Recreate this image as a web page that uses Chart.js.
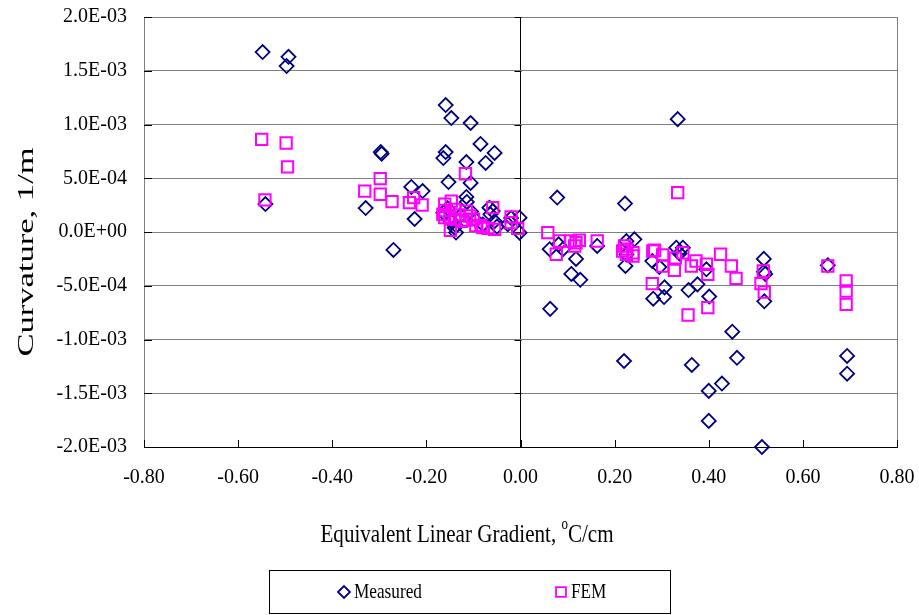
<!DOCTYPE html>
<html>
<head>
<meta charset="utf-8">
<script src="https://cdn.jsdelivr.net/npm/chart.js@4.4.1/dist/chart.umd.min.js"></script>
<style>
  html, body { margin: 0; padding: 0; background: #fff; }
  #wrap { width: 919px; height: 615px; }
</style>
</head>
<body>
<div id="wrap"><canvas id="chart" width="919" height="615"></canvas></div>
<script>
const seriesNames = ['Measured', 'FEM'];
const xTickLabels = ['-0.80', '-0.60', '-0.40', '-0.20', '0.00', '0.20', '0.40', '0.60', '0.80'];
const yTickLabels = ['-2.0E-03', '-1.5E-03', '-1.0E-03', '-5.0E-04', '0.0E+00', '5.0E-04', '1.0E-03', '1.5E-03', '2.0E-03'];
const xTitle = ['Equivalent Linear Gradient, ', 'o', 'C/cm'];
const yTitle = 'Curvature, 1/m';

// curvature values below are in units of 1E-03 1/m
const measuredX = [
  -0.548, -0.493, -0.497, -0.542, -0.297, -0.295, -0.329, -0.270, -0.232, -0.208, -0.225,
  -0.159, -0.147, -0.106, -0.085, -0.055, -0.159, -0.164, -0.074, -0.115, -0.153, -0.106,
  -0.115, -0.114, -0.164, -0.155, -0.148, -0.137, -0.137, -0.128, -0.105, -0.095, -0.080,
  -0.066, -0.064, -0.055, -0.050, -0.027, -0.020, -0.002, -0.002, -0.140, -0.059,
  0.078, 0.222, 0.062, 0.081, 0.090, 0.118, 0.163, 0.225, 0.242, 0.108, 0.127, 0.063,
  0.223, 0.225, 0.280, 0.295, 0.331, 0.345, 0.338, 0.306, 0.282, 0.305, 0.357, 0.376,
  0.395, 0.401, 0.450, 0.517, 0.517, 0.520, 0.518, 0.653, 0.220, 0.364, 0.460, 0.694,
  0.694, 0.428, 0.400, 0.400, 0.513, 0.334
];
const measuredY = [
  1.674, 1.630, 1.544, 0.260, 0.744, 0.728, 0.223, -0.167, 0.419, 0.381, 0.121,
  1.181, 1.060, 1.014, 0.819, 0.735, 0.744, 0.688, 0.642, 0.651, 0.465, 0.456,
  0.326, 0.280, 0.180, 0.220, 0.100, 0.060, -0.005, 0.150, 0.190, 0.110, 0.070,
  0.226, 0.165, 0.100, 0.050, 0.072, 0.130, 0.133, -0.006, 0.040, 0.195,
  0.320, 0.265, -0.160, -0.115, -0.160, -0.250, -0.130, -0.085, -0.068, -0.390, -0.445, -0.715,
  -0.316, -0.210, -0.270, -0.326, -0.146, -0.146, -0.200, -0.515, -0.620, -0.605, -0.540, -0.487,
  -0.347, -0.600, -0.927, -0.250, -0.370, -0.390, -0.645, -0.310, -1.200, -1.237, -1.170, -1.153,
  -1.318, -1.410, -1.478, -1.757, -2.000, 1.050
];
const femX = [
  -0.550, -0.498, -0.495, -0.543, -0.331, -0.298, -0.298, -0.273, -0.236, -0.227, -0.209, -0.117,
  -0.161, -0.147, -0.165, -0.161, -0.149, -0.140, -0.115, -0.108, -0.130, -0.059, -0.084, -0.069,
  -0.055, -0.020, -0.006, -0.020, -0.150, -0.125, -0.095, -0.080, -0.160, -0.140, -0.115, -0.100,
  0.058, 0.083, 0.106, 0.118, 0.125, 0.163, 0.076, 0.115, 0.221, 0.225, 0.239, 0.217, 0.239, 0.226,
  0.281, 0.302, 0.302, 0.327, 0.345, 0.363, 0.395, 0.398, 0.280, 0.356, 0.398, 0.334, 0.373, 0.329,
  0.285, 0.425, 0.448, 0.458, 0.516, 0.511, 0.518, 0.653, 0.692, 0.692, 0.692
];
const femY = [
  0.862, 0.828, 0.605, 0.298, 0.381, 0.496, 0.351, 0.282, 0.273, 0.319, 0.251, 0.542,
  0.258, 0.288, 0.165, 0.133, 0.016, 0.211, 0.195, 0.149, 0.158, 0.226, 0.062, 0.034,
  0.025, 0.140, 0.034, 0.087, 0.140, 0.100, 0.060, 0.040, 0.200, 0.120, 0.110, 0.120,
  -0.005, -0.084, -0.084, -0.100, -0.077, -0.084, -0.207, -0.130, -0.130, -0.207, -0.193, -0.177, -0.223, -0.160,
  -0.177, -0.214, -0.316, -0.357, -0.193, -0.316, -0.300, -0.394, -0.481, -0.772, -0.704, 0.366, -0.270, -0.240,
  -0.170, -0.207, -0.316, -0.431, -0.363, -0.481, -0.558, -0.316, -0.456, -0.549, -0.673
];

const FONT = 'Liberation Serif, Times New Roman, serif';
const NAVY = '#000080';
const MAGENTA = '#FF00FF';

const toPoints = (xs, ys) => xs.map((x, i) => ({ x: x, y: ys[i] }));

// draws text squeezed/stretched along its own direction
function drawScaled(ctx, text, x, y, size, sx) {
  ctx.save();
  ctx.translate(x, y);
  ctx.scale(sx, 1);
  ctx.font = size + 'px ' + FONT;
  ctx.fillText(text, 0, 0);
  ctx.restore();
}

const decorPlugin = {
  id: 'decor',
  afterDraw(chart) {
    const { ctx, chartArea: area, scales: { x, y } } = chart;
    ctx.save();

    // small inward tick marks
    ctx.strokeStyle = '#000';
    ctx.lineWidth = 1;
    const x0 = Math.round(x.getPixelForValue(0)) + 0.5;
    y.ticks.forEach(t => {
      const py = Math.round(y.getPixelForValue(t.value)) + 0.5;
      ctx.beginPath();
      ctx.moveTo(area.left, py); ctx.lineTo(area.left + 8, py);
      ctx.moveTo(x0 - 7, py); ctx.lineTo(x0, py);
      ctx.stroke();
    });
    x.ticks.forEach(t => {
      const px = Math.round(x.getPixelForValue(t.value)) + 0.5;
      ctx.beginPath();
      ctx.moveTo(px, area.bottom); ctx.lineTo(px, area.bottom - 7);
      ctx.stroke();
    });

    // x axis title with superscript degree "o"
    ctx.fillStyle = '#000';
    ctx.textBaseline = 'alphabetic';
    ctx.textAlign = 'left';
    const sx = 0.81;
    ctx.font = '26px ' + FONT;
    const w1 = ctx.measureText(xTitle[0]).width * sx;
    const w3 = ctx.measureText(xTitle[2]).width * sx;
    ctx.font = '16px ' + FONT;
    const w2 = ctx.measureText(xTitle[1]).width * sx;
    let tx = 467 - (w1 + w2 + w3) / 2;
    const base = 542;
    drawScaled(ctx, xTitle[0], tx, base, 26, sx); tx += w1;
    drawScaled(ctx, xTitle[1], tx, base - 13, 16, sx); tx += w2;
    drawScaled(ctx, xTitle[2], tx, base, 26, sx);

    // y axis title, rotated
    ctx.save();
    ctx.translate(33, 252);
    ctx.rotate(-Math.PI / 2);
    ctx.textAlign = 'center';
    ctx.scale(1.44, 1);
    ctx.font = '24px ' + FONT;
    ctx.fillText(yTitle, 0, 0);
    ctx.restore();

    // legend box
    ctx.strokeStyle = '#000';
    ctx.lineWidth = 1;
    ctx.strokeRect(269.5, 570.5, 401, 43);
    const styles = [
      { style: 'rectRot', r: 6, color: NAVY, cx: 344, tx: 354 },
      { style: 'rect', r: 7, color: MAGENTA, cx: 561, tx: 571 }
    ];
    styles.forEach((s, i) => {
      ctx.lineWidth = 1.8;
      ctx.strokeStyle = s.color;
      ctx.fillStyle = 'rgba(0,0,0,0)';
      Chart.helpers.drawPoint(ctx, { pointStyle: s.style, radius: s.r, borderWidth: 1.8 }, s.cx, 592);
      ctx.fillStyle = '#000';
      ctx.textBaseline = 'middle';
      drawScaled(ctx, seriesNames[i], s.tx, 592, 21, 0.82);
    });

    ctx.restore();
  }
};

new Chart(document.getElementById('chart'), {
  type: 'scatter',
  data: {
    datasets: [
      {
        label: seriesNames[1],
        data: toPoints(femX, femY),
        pointStyle: 'rect',
        radius: 8,
        borderColor: MAGENTA,
        backgroundColor: 'rgba(0,0,0,0)',
        borderWidth: 2,
        clip: false,
        order: 0
      },
      {
        label: seriesNames[0],
        data: toPoints(measuredX, measuredY),
        pointStyle: 'rectRot',
        radius: 7,
        borderColor: NAVY,
        backgroundColor: 'rgba(0,0,0,0)',
        borderWidth: 1.8,
        clip: false,
        order: 1
      }
    ]
  },
  options: {
    responsive: false,
    animation: false,
    devicePixelRatio: 1,
    layout: { padding: { top: 17, right: 22, left: 0, bottom: 0 } },
    plugins: {
      legend: { display: false },
      tooltip: { enabled: false }
    },
    scales: {
      x: {
        type: 'linear',
        min: -0.8,
        max: 0.8,
        afterFit: s => { s.height = 168; s.paddingLeft = 0; s.paddingRight = 0; },
        ticks: {
          stepSize: 0.2,
          padding: 19,
          color: '#000',
          font: { family: FONT, size: 20 },
          callback: (v, i) => xTickLabels[i]
        },
        grid: {
          drawTicks: false,
          color: c => {
            const v = Math.round(c.tick.value * 100) / 100;
            if (v === 0) return '#000';
            if (v === 0.8) return '#808080';
            return 'rgba(0,0,0,0)';
          }
        },
        border: { color: '#000', width: 1 },
        title: { display: false }
      },
      y: {
        type: 'linear',
        min: -2,
        max: 2,
        afterFit: s => { s.width = 144; s.paddingTop = 0; s.paddingBottom = 0; },
        ticks: {
          stepSize: 0.5,
          padding: 17,
          color: '#000',
          font: { family: FONT, size: 20 },
          callback: (v, i) => yTickLabels[i]
        },
        grid: { drawTicks: false, color: '#808080' },
        border: { color: '#808080', width: 1 },
        title: { display: false }
      }
    }
  },
  plugins: [decorPlugin]
});
</script>
</body>
</html>
